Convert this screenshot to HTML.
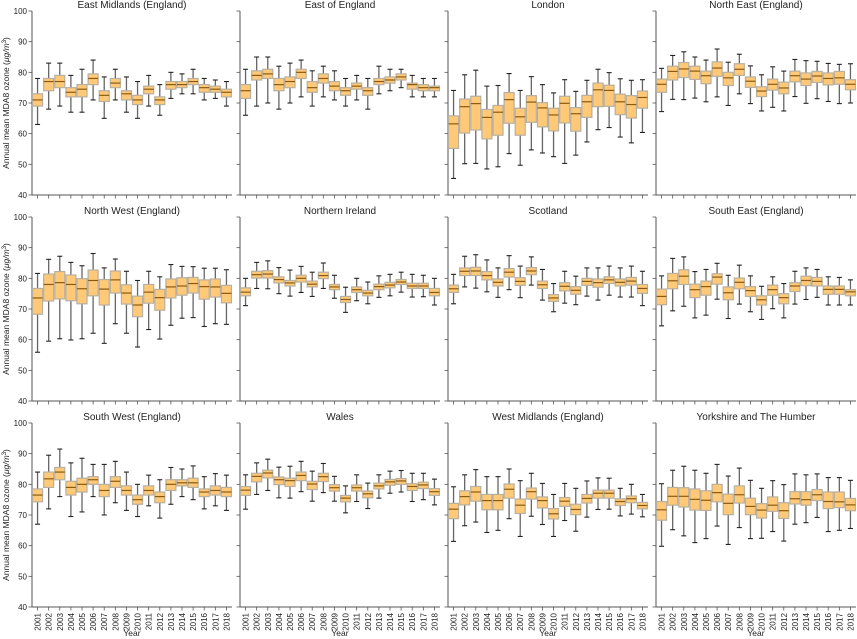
<!DOCTYPE html>
<html><head><meta charset="utf-8">
<style>
html,body{margin:0;padding:0;background:#fff;}
svg{display:block;font-family:"Liberation Sans","DejaVu Sans",sans-serif;}
</style></head>
<body>
<svg id="chart" width="857" height="639" viewBox="0 0 857 639" xmlns="http://www.w3.org/2000/svg"></svg>
<script>
const years = ["2001","2002","2003","2004","2005","2006","2007","2008","2009","2010","2011","2012","2013","2014","2015","2016","2017","2018"];
const regions = ["East Midlands (England)","East of England","London","North East (England)","North West (England)","Northern Ireland","Scotland","South East (England)","South West (England)","Wales","West Midlands (England)","Yorkshire and The Humber"];
const yTicks = [40,50,60,70,80,90,100];
// each entry: [whisker low, q1, median, q3, whisker high]
const eastMidlands = [[63,69,71,73,78],[68,74,77,78,83],[69,75,77,79,83],[67,72,73.5,75,79],[67,72,74.5,76,81],[71,76,78,79.5,84],[65,70.5,72.5,74,78.5],[71,75,76.5,78,81],[67,71,73,74,78.5],[65,69.5,71,72.5,77],[69,73,74.5,75.5,79],[66,69.5,71,72,76],[71.5,74.5,76,77,80],[73,75,76,77,79.5],[73,76,77,78,81],[71,73.5,75,76,78],[71.5,73.5,74.5,75.5,77.5],[69,72,73.5,74.5,77]];
const eastOfEngland = [[66,71.5,74,76,81],[69,77.5,79,80.5,85],[70,78,79.5,81,85],[68,74,76,78,82],[70,75,77,78.5,83],[72,78,80,81,84],[69,73.5,75,77,80.5],[72,76.5,78,79.5,82],[71,74,75.5,77,80.5],[69,72.5,74,75,78],[71,74.5,75.5,76.5,79],[68,72.5,74,75,78],[73,76,77,78,82],[74,76.5,77.5,78.5,81],[75,77.5,78.5,79.5,81],[72,74.5,76,76.5,79],[72,74,75,76,78],[72,74,75,75.5,78]];
const london = [[45.4,55.2,63.2,65.8,74.1],[50.2,60.2,68.8,71.3,79.2],[50.3,61.2,69.8,72.2,80.7],[48.5,58.3,65.3,67.9,75.5],[49.2,59.5,67.0,69.2,75.7],[53.5,63.4,71.1,73.4,79.6],[49.7,59.5,65.5,68.3,74.1],[54.7,63.7,70.3,72.4,78.6],[53.7,62.2,68.4,70.1,76.0],[52.5,60.9,66.1,68.3,73.3],[50.3,63.5,69.9,72.2,77.6],[53.0,60.8,66.5,68.5,73.8],[57.3,65.3,70.4,72.5,77.4],[61.3,68.8,74.3,76.5,81.0],[62.0,68.9,74.1,75.8,79.9],[58.9,66.2,70.4,72.9,77.9],[57.0,65.1,69.5,72.4,77.4],[60.4,68.3,71.8,73.9,77.6]];
const northEast = [[67.2,73.5,76.1,77.8,81.3],[71.2,77.5,80.3,82.0,85.5],[71.1,78.3,81.1,83.2,86.7],[71.6,77.7,80.4,82.0,85.0],[70.4,76.3,78.9,80.4,84.0],[72.0,78.7,81.4,83.4,87.6],[69.2,75.7,78.2,80.0,83.3],[73.0,79.0,81.0,82.8,85.9],[69.8,75.1,77.1,78.5,82.1],[67.4,72.1,73.9,75.3,79.2],[68.6,74.2,76.1,77.8,81.8],[67.4,73.0,74.9,76.8,80.4],[72.1,76.9,78.9,80.4,84.2],[69.9,75.7,77.8,79.8,83.8],[71.4,76.7,78.8,80.3,83.6],[70.5,75.9,78.0,79.8,82.9],[69.8,76.1,78.2,80.3,82.6],[70.0,74.3,76.1,77.6,82.8]];
const northWest = [[55.9,68.3,73.6,76.7,81.6],[59.5,72.6,78.0,81.4,86.2],[60.3,73.3,78.6,82.2,87.2],[59.9,72.7,78.0,81.1,85.2],[60.3,71.7,76.6,79.9,84.1],[62.1,74.3,79.3,82.7,88.1],[58.8,71.3,76.5,79.6,83.4],[65.2,75.2,79.5,82.4,86.3],[62.1,71.6,75.2,77.9,82.3],[57.6,67.5,71.3,74.2,79.3],[63.3,71.9,75.5,78.0,82.3],[60.2,69.6,73.7,76.4,80.5],[64.7,73.6,77.2,79.8,84.5],[67.0,74.5,77.5,80.2,83.9],[67.2,75.2,78.3,80.3,83.8],[64.3,73.2,77.3,79.5,83.3],[65.2,73.9,77.2,79.8,83.3],[65.0,72.0,75.1,77.7,82.8]];
const northernIreland = [[71.1,74.3,75.5,76.9,80.0],[76.7,80.1,81.2,82.3,85.2],[76.6,80.1,81.4,82.5,85.7],[75.0,78.5,79.6,80.5,83.5],[74.2,77.5,78.5,79.3,82.7],[75.4,78.8,80.0,81.0,83.9],[74.1,77.2,78.1,79.1,82.0],[76.7,79.9,80.9,82.0,85.0],[73.5,76.3,77.2,78.0,81.0],[68.9,72.1,73.1,74.1,77.1],[72.7,75.4,76.3,77.2,80.0],[71.7,74.3,75.2,76.1,78.8],[73.8,76.3,77.3,78.1,80.8],[74.3,76.9,77.8,78.7,81.3],[75.5,78.0,78.8,79.6,82.0],[73.9,76.7,77.5,78.4,81.3],[74.0,76.7,77.5,78.4,81.0],[71.3,74.3,75.4,76.7,80.0]];
const scotland = [[71.7,75.4,76.6,77.8,81.3],[77.2,80.9,82.3,83.4,87.2],[76.8,80.9,82.4,83.6,87.7],[75.6,79.5,80.9,82.2,86.0],[73.8,77.5,78.7,79.8,83.4],[76.3,80.4,82.0,83.2,87.4],[73.7,77.7,79.0,80.2,84.0],[77.8,81.2,82.4,83.5,87.0],[72.9,76.7,77.9,79.1,82.9],[69.1,72.5,73.6,74.7,78.3],[71.9,75.9,77.4,78.6,82.3],[71.4,74.8,76.1,77.3,80.7],[74.2,77.7,79.0,80.0,83.4],[72.9,77.1,78.6,79.8,83.4],[74.5,78.3,79.5,80.5,84.0],[73.9,77.5,78.7,79.8,83.4],[73.9,77.8,79.1,80.3,84.0],[71.1,75.1,76.7,78.0,82.3]];
const southEast = [[64.5,71.4,74.1,76.5,80.8],[69.4,76.6,79.2,81.6,86.5],[70.9,78.0,80.7,82.8,87.0],[67.1,73.7,76.3,78.1,82.2],[68.0,74.5,77.3,79.1,82.9],[73.2,78.1,80.4,81.5,84.9],[66.9,73.0,75.3,77.2,81.0],[71.6,76.6,78.7,80.1,84.3],[69.1,74.1,76.0,77.3,80.8],[66.6,71.3,73.0,74.3,77.4],[70.1,74.5,76.3,77.8,80.5],[67.1,71.7,73.7,75.0,78.3],[71.6,75.7,77.5,78.6,82.3],[73.1,77.6,79.3,80.7,83.4],[73.8,77.5,79.0,80.3,82.9],[71.3,74.8,76.4,77.5,80.5],[71.3,74.8,76.4,77.5,80.3],[71.3,74.3,75.6,76.3,79.5]];
const southWest = [[67,74.3,76.5,78.5,84],[72,79,81.8,84,89.5],[76,81.5,84,85.5,91.5],[69.5,76.5,79,81,87],[71,77.5,80,82,88.5],[76,80,81.5,82.5,86.5],[70,76,78,80,86.5],[74,79,81,82.5,87.5],[71.5,76.5,78,79.5,84],[69.5,73.5,75,76.5,80],[73,76.5,78,79.5,83],[69,74,76,77.5,81.5],[73.5,78,80,81.5,85.5],[76,79.5,80.5,81.5,85],[75,79,80.5,82,86],[72,76,77.5,78.5,82.5],[73,76.5,78,79.5,83.5],[71.5,76,77.5,79,83]];
const wales = [[71.9,76.4,78.1,79.3,83.1],[76.7,80.8,82.6,83.6,87.0],[78.0,82.1,83.7,84.6,88.2],[75.6,79.9,81.5,82.4,85.6],[75.5,79.3,81.2,82.0,85.9],[77.6,81.2,82.9,84.0,87.5],[74.5,78.3,80.1,81.0,84.3],[77.3,80.9,82.5,83.6,86.8],[74.5,77.8,78.9,79.9,82.6],[70.7,74.3,75.5,76.4,79.5],[74.4,77.8,78.9,79.8,83.1],[72.1,75.6,76.9,77.8,80.4],[75.5,78.5,79.5,80.4,83.1],[77.1,79.7,80.8,81.6,84.3],[77.5,80.0,81.1,81.9,84.5],[74.4,78.0,79.3,80.2,83.6],[75.0,78.6,79.8,80.7,83.6],[73.3,76.4,77.6,78.6,81.7]];
const westMidlands = [[61.4,68.8,71.9,73.8,79.2],[66.5,73.3,76.0,77.9,83.1],[67.7,74.5,77.5,79.3,84.8],[64.3,71.7,74.7,76.7,82.5],[65.0,71.7,74.7,76.7,82.5],[68.8,75.5,78.4,80.1,85.0],[63.0,70.5,73.2,75.2,81.2],[69.6,75.2,77.6,78.8,83.6],[66.9,72.3,74.7,75.9,80.3],[63.0,68.7,70.4,72.1,76.7],[68.2,72.8,74.5,75.7,80.3],[64.7,70.1,71.8,73.5,78.7],[69.3,73.9,75.4,76.7,81.1],[71.8,75.5,77.1,78.1,82.1],[71.9,75.5,77.1,78.1,82.0],[69.7,73.1,74.4,75.3,78.7],[70.3,74.0,75.3,76.2,80.0],[69.4,72.0,73.1,74.1,76.7]];
const yorkshire = [[59.8,68.3,71.7,74.4,80.2],[65.2,73.2,76.1,79.0,84.6],[63.2,72.6,76.1,78.9,85.9],[61.0,71.6,75.1,78.5,84.6],[62.3,71.5,74.8,77.9,83.6],[66.4,74.3,77.3,80.0,86.5],[60.4,70.1,73.8,76.8,82.7],[65.9,73.9,76.6,79.5,85.3],[62.3,70.1,72.8,75.5,81.3],[62.4,69.0,71.6,73.7,78.7],[64.6,71.2,73.2,75.9,81.2],[61.5,68.9,71.4,74.0,79.9],[67.0,73.6,75.3,77.6,83.4],[67.5,73.2,75.0,77.6,83.1],[69.2,74.7,76.6,78.3,83.4],[64.6,72.1,74.4,77.5,82.2],[65.0,72.4,74.3,77.5,82.2],[65.6,71.4,73.3,75.4,81.3]];
const panelData = [eastMidlands,eastOfEngland,london,northEast,northWest,northernIreland,scotland,southEast,southWest,wales,westMidlands,yorkshire];

const NS = "http://www.w3.org/2000/svg";
const svg = document.getElementById("chart");
function mk(tag, attrs, parent, text){
  const e = document.createElementNS(NS, tag);
  for (const k in attrs) e.setAttribute(k, attrs[k]);
  if (text !== undefined) e.textContent = text;
  (parent || svg).appendChild(e);
  return e;
}
const colX = [32,240,448,656], rowY = [11,217,423], PW = 200, PH = 184;
const slug = s => s.toLowerCase().replace(/[^a-z0-9]+/g,'-').replace(/-$/,'');

panelData.forEach((data, pi) => {
  const col = pi % 4, row = Math.floor(pi / 4);
  const x0 = colX[col], y0 = rowY[row];
  const xs = i => x0 + (i + 1 - 0.5) * PW / 18;
  const ys = v => y0 + PH - (v - 40) / 60 * PH;
  const g = mk("g", {});
  
  
  const t = mk("text", {x: x0 + PW/2, y: y0 - 3, "text-anchor": "middle", "font-size": 10, fill: "#222"}, g, regions[pi]);
  
  
  // axes
  const ya = mk("line", {x1: x0, y1: y0, x2: x0, y2: y0 + PH, stroke: "#555", "stroke-width": 1}, g);
  
  
  const xa = mk("line", {x1: x0, y1: y0 + PH, x2: x0 + PW, y2: y0 + PH, stroke: "#555", "stroke-width": 1}, g);
  
  
  yTicks.forEach(v => {
    const tk = mk("line", {x1: x0 - 3.5, y1: ys(v), x2: x0, y2: ys(v), stroke: "#555", "stroke-width": 0.8}, g);
    
    
    if (col === 0) {
      const tl = mk("text", {x: x0 - 5, y: ys(v) + 3, "text-anchor": "end", "font-size": 8, fill: "#222"}, g, String(v));
      
      
    }
  });
  years.forEach((yr, i) => {
    const tk = mk("line", {x1: xs(i), y1: y0 + PH, x2: xs(i), y2: y0 + PH + 3.5, stroke: "#555", "stroke-width": 0.8}, g);
    
    
    if (row === 2) {
      const tl = mk("text", {x: 0, y: 0, transform: `translate(${xs(i) + 3},${y0 + PH + 6}) rotate(-90)`, "text-anchor": "end", "font-size": 8, fill: "#222"}, g, yr);
      
      
    }
  });
  if (col === 0) {
    const yl = mk("text", {x: 0, y: 0, transform: `translate(9,${y0 + PH/2}) rotate(-90)`, "text-anchor": "middle", "font-size": 8.5, fill: "#222"}, g);
    
    
    yl.innerHTML = 'Annual mean MDA8 ozone (<tspan font-style="italic">μg/m</tspan><tspan font-size="6" dy="-3">3</tspan><tspan dy="3">)</tspan>';
  }
  if (row === 2) {
    const xl = mk("text", {x: x0 + PW/2, y: 636, "text-anchor": "middle", "font-size": 8.5, fill: "#222"}, g, "Year");
    
    
  }
  // boxes
  data.forEach((d, i) => {
    const cx = xs(i), bw = 10, cw = 5;
    const bg = mk("g", {}, g);
    
    
    mk("line", {x1: cx, y1: ys(d[0]), x2: cx, y2: ys(d[1]), stroke: "#666", "stroke-width": 1.3}, bg);
    mk("line", {x1: cx, y1: ys(d[3]), x2: cx, y2: ys(d[4]), stroke: "#666", "stroke-width": 1.3}, bg);
    mk("line", {x1: cx - cw/2, y1: ys(d[0]), x2: cx + cw/2, y2: ys(d[0]), stroke: "#222", "stroke-width": 1.1}, bg);
    mk("line", {x1: cx - cw/2, y1: ys(d[4]), x2: cx + cw/2, y2: ys(d[4]), stroke: "#222", "stroke-width": 1.1}, bg);
    mk("rect", {x: cx - bw/2, y: ys(d[3]), width: bw, height: Math.max(1, ys(d[1]) - ys(d[3])), fill: "#ffc978", stroke: "#b8b0a0", "stroke-width": 1.2}, bg);
    mk("line", {x1: cx - bw/2, y1: ys(d[2]), x2: cx + bw/2, y2: ys(d[2]), stroke: "#8a5a10", "stroke-width": 1.2}, bg);
  });
});
</script>
</body></html>
